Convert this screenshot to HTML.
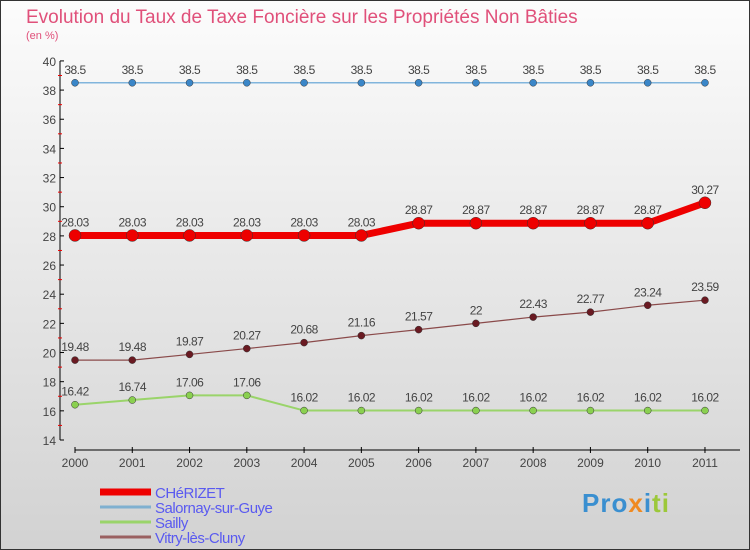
<!DOCTYPE html>
<html><head><meta charset="utf-8"><style>
body{margin:0;width:750px;height:550px;overflow:hidden;font-family:"Liberation Sans",sans-serif}
#c{position:absolute;left:0;top:0;width:748px;height:548px;border:1px solid #333;background:linear-gradient(#fcfcfc,#d2d2d2)}
</style></head><body>
<div id="c"></div>
<svg id="s" width="750" height="550" style="position:absolute;left:0;top:0">
<text x="26" y="23" font-size="19" fill="#e0507a">Evolution du Taux de Taxe Foncière sur les Propriétés Non Bâties</text>
<text x="26" y="39" font-size="11" fill="#e0507a">(en %)</text>
<g id="g"></g>
</svg>
<div style="position:absolute;left:582px;top:488px;font:bold 26px 'Liberation Sans',sans-serif;letter-spacing:1px"><span style="color:#3a8fd0">Pro</span><span style="color:#f08a20">x</span><span style="color:#3a8fd0">i</span><span style="color:#9cc83a">ti</span></div>
<script>
const years=[2000,2001,2002,2003,2004,2005,2006,2007,2008,2009,2010,2011];
const yTicks=[14,16,18,20,22,24,26,28,30,32,34,36,38,40];
const cherizet=[28.03,28.03,28.03,28.03,28.03,28.03,28.87,28.87,28.87,28.87,28.87,30.27];
const salornay=[38.5,38.5,38.5,38.5,38.5,38.5,38.5,38.5,38.5,38.5,38.5,38.5];
const sailly=[16.42,16.74,17.06,17.06,16.02,16.02,16.02,16.02,16.02,16.02,16.02,16.02];
const vitry=[19.48,19.48,19.87,20.27,20.68,21.16,21.57,22,22.43,22.77,23.24,23.59];
const seriesNames=["CHéRIZET","Salornay-sur-Guye","Sailly","Vitry-lès-Cluny"];
const NS="http://www.w3.org/2000/svg",g=document.getElementById('g');
const xS=i=>75+i*57.27, yS=v=>440-(v-14)*14.58;
function mk(t,a,txt){const e=document.createElementNS(NS,t);for(const k in a)e.setAttribute(k,a[k]);if(txt!==undefined)e.textContent=txt;g.appendChild(e);return e;}
let e=mk('line',{x1:60,y1:61,x2:60,y2:440,stroke:'#000'});


e=mk('line',{x1:75,y1:450,x2:740,y2:450,stroke:'#000'});


yTicks.forEach((v,i)=>{
 const y=yS(v);
 mk('line',{x1:60,y1:y,x2:64,y2:y,stroke:'#000'});
 if(i<yTicks.length-1)mk('line',{x1:58,y1:yS(v+1),x2:62,y2:yS(v+1),stroke:'#e00'});
 const t=mk('text',{x:56,y:y+5,'font-size':12,fill:'#444','text-anchor':'end'},v);
 
 
});
years.forEach((yr,i)=>{
 mk('line',{x1:xS(i),y1:447,x2:xS(i),y2:453,stroke:'#000'});
 const t=mk('text',{x:xS(i),y:467,'font-size':12,fill:'#444','text-anchor':'middle'},yr);
 
 
});
function series(d,col,w,dot,r,name){
 const p=mk('polyline',{points:d.map((v,i)=>xS(i)+','+yS(v)).join(' '),fill:'none',stroke:col,'stroke-width':w,'stroke-linejoin':'round'});
 
 
 d.forEach((v,i)=>{
  const c=mk('circle',{cx:xS(i),cy:yS(v),r:r,fill:dot,stroke:'#333','stroke-width':0.5});
  
  
  const t=mk('text',{x:xS(i),y:yS(v)-9,'font-size':12,fill:'#444','text-anchor':'middle','letter-spacing':'-0.5'},v);
  
  
 });
}
series(salornay,'#5a9fd4',1.2,'#3a86c8',3.5,'salornay');
series(sailly,'#9ad46a',2,'#8ad050',3.5,'sailly');
series(vitry,'#8a4a4a',1.2,'#6a1a22',3.5,'vitry');
series(cherizet,'#ee0000',7,'#ee0000',6,'cherizet');
const lc=['#ee0000','#7fb0d0','#9ad46a','#9a6060'],lw=[7,3,3,3];
seriesNames.forEach((n,i)=>{
 const y=492+i*15;
 const l=mk('line',{x1:100,y1:y,x2:151,y2:y,stroke:lc[i],'stroke-width':lw[i]});
 
 
 const t=mk('text',{x:155,y:y+6,'font-size':15,fill:'#5a5af0','letter-spacing':'-0.5'},n);
 
 
});
</script>
</body></html>
